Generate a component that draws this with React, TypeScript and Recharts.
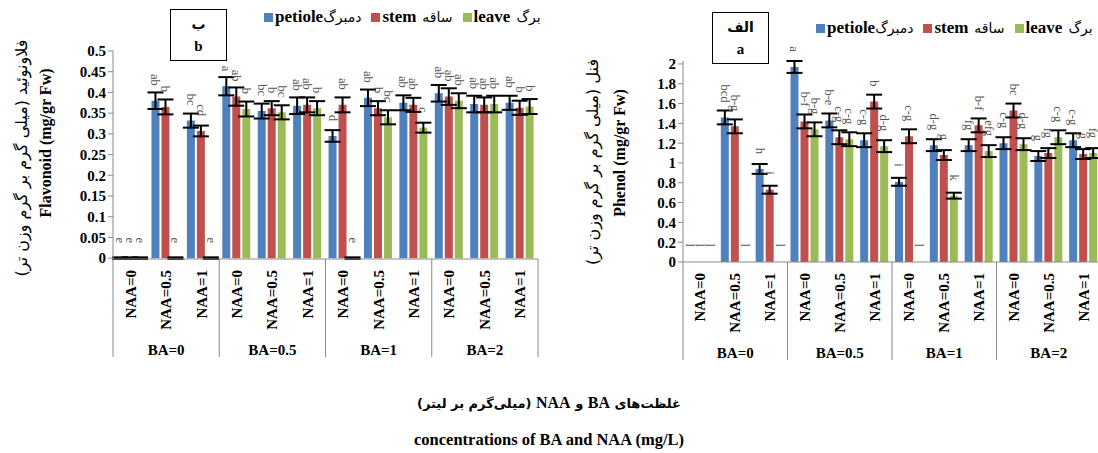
import React from 'react';
import { BarChart, Bar, XAxis, YAxis, ErrorBar, LabelList } from 'recharts';

const SERIF = '"Liberation Serif", "Times New Roman", serif';
const FA = '"DejaVu Sans", sans-serif';
const BLUE = '#4F81BD';
const RED = '#C0504D';
const GREEN = '#9BBB59';

const naaLabels = ['NAA=0', 'NAA=0.5', 'NAA=1', 'NAA=0', 'NAA=0.5', 'NAA=1', 'NAA=0', 'NAA=0.5', 'NAA=1', 'NAA=0', 'NAA=0.5', 'NAA=1'];
const baLabels = ['BA=0', 'BA=0.5', 'BA=1', 'BA=2'];

// Flavonoid (left panel, "b")
const flavPetiole = [0, 0.38, 0.332, 0.415, 0.355, 0.368, 0.295, 0.387, 0.375, 0.398, 0.372, 0.375];
const flavStem = [0, 0.365, 0.307, 0.39, 0.362, 0.37, 0.37, 0.362, 0.37, 0.39, 0.37, 0.363];
const flavLeave = [0, 0, 0, 0.36, 0.352, 0.362, 0, 0.34, 0.315, 0.38, 0.372, 0.366];
const flavPetioleErr = [0.002, 0.02, 0.017, 0.022, 0.018, 0.02, 0.014, 0.02, 0.018, 0.02, 0.02, 0.017];
const flavStemErr = [0.002, 0.018, 0.013, 0.022, 0.017, 0.018, 0.018, 0.017, 0.017, 0.02, 0.018, 0.017];
const flavLeaveErr = [0.002, 0.002, 0.002, 0.018, 0.017, 0.017, 0.002, 0.017, 0.012, 0.018, 0.02, 0.018];
const flavPetioleSig = ['e', 'ab', 'bc', 'a', 'bc', 'ab', 'd', 'ab', 'ab', 'ab', 'ab', 'ab'];
const flavStemSig = ['e', 'b', 'cd', 'ab', 'b', 'ab', 'ab', 'b', 'ab', 'ab', 'ab', 'b'];
const flavLeaveSig = ['e', 'e', 'e', 'b', 'bc', 'b', 'e', 'bc', 'c', 'ab', 'ab', 'b'];
const flavTicks = [0, 0.05, 0.1, 0.15, 0.2, 0.25, 0.3, 0.35, 0.4, 0.45, 0.5];
const flavTickLabels = ['0', '0.05', '0.1', '0.15', '0.2', '0.25', '0.3', '0.35', '0.4', '0.45', '0.5'];

// Phenol (right panel, "a")
const phPetiole = [0, 1.46, 0.94, 1.97, 1.43, 1.23, 0.81, 1.18, 1.18, 1.2, 1.07, 1.23];
const phStem = [0, 1.37, 0.73, 1.42, 1.26, 1.62, 1.27, 1.08, 1.38, 1.53, 1.1, 1.09];
const phLeave = [0, 0, 0, 1.34, 1.24, 1.17, 0, 0.67, 1.12, 1.19, 1.26, 1.1];
const phPetioleErr = [null, 0.07, 0.05, 0.06, 0.07, 0.07, 0.04, 0.06, 0.06, 0.06, 0.05, 0.07];
const phStemErr = [null, 0.07, 0.04, 0.07, 0.07, 0.07, 0.07, 0.05, 0.07, 0.07, 0.05, 0.05];
const phLeaveErr = [null, null, null, 0.07, 0.07, 0.06, null, 0.03, 0.06, 0.06, 0.07, 0.05];
const phPetioleSig = ['l', 'bcd', 'h', 'a', 'b-e', 'c-g', 'i', 'd-g', 'fg', 'c-g', 'g', 'c-g'];
const phStemSig = ['l', 'b-g', 'i', 'b-f', 'c-g', 'b', 'c-g', 'g', 'b-f', 'bc', 'fg', 'g'];
const phLeaveSig = ['l', 'l', 'l', 'b-g', 'c-g', 'd-g', 'l', 'k', 'efg', 'd-g', 'c-g', 'fg'];
const phTicks = [0, 0.2, 0.4, 0.6, 0.8, 1, 1.2, 1.4, 1.6, 1.8, 2];
const phTickLabels = ['0', '0.2', '0.4', '0.6', '0.8', '1', '1.2', '1.4', '1.6', '1.8', '2'];

const seriesNamesEn = ['petiole', 'stem', 'leave'];
const seriesNamesFa = ['دمبرگ', 'ساقه', 'برگ'];
const seriesColors = [BLUE, RED, GREEN];

function makeRows(p: number[], s: number[], l: number[], pe: any[], se: any[], le: any[], ps: string[], ss: string[], ls: string[]) {
  return naaLabels.map((naa, i) => ({ idx: i, naa, p: p[i], s: s[i], l: l[i], pe: pe[i], se: se[i], le: le[i], ps: ps[i], ss: ss[i], ls: ls[i] }));
}

const flavRows = makeRows(flavPetiole, flavStem, flavLeave, flavPetioleErr, flavStemErr, flavLeaveErr, flavPetioleSig, flavStemSig, flavLeaveSig);
const phRows = makeRows(phPetiole, phStem, phLeave, phPetioleErr, phStemErr, phLeaveErr, phPetioleSig, phStemSig, phLeaveSig);

const SigLabel = (props: any) => {
  const vb = props.viewBox || {};
  const x = props.x ?? vb.x;
  const y = props.y ?? vb.y;
  const w = props.width ?? vb.width;
  const cx = x + w / 2;
  const ay = y - 15;
  return (
    <text x={cx} y={ay} transform={`rotate(90, ${cx}, ${ay})`} textAnchor="end" dominantBaseline="central"
      fontFamily={SERIF} fontSize={12.5} fill="#555">{props.value}</text>
  );
};

const makeTick = (band: number) => (props: any) => {
  const { x, y, payload } = props;
  const i = payload.value as number;
  const items: any[] = [];
  items.push(
    <text key="n" x={x} y={y + 11} transform={`rotate(-90, ${x}, ${y + 11})`} textAnchor="end" dominantBaseline="central"
      fontFamily={SERIF} fontWeight="bold" fontSize={15} fill="#000">{naaLabels[i]}</text>
  );
  if (i % 3 === 0) {
    items.push(<line key="s" x1={x - band / 2} x2={x - band / 2} y1={y} y2={y + 98} stroke="#8a8a8a" strokeWidth={1} />);
  }
  if (i === naaLabels.length - 1) {
    items.push(<line key="e" x1={x + band / 2} x2={x + band / 2} y1={y} y2={y + 98} stroke="#8a8a8a" strokeWidth={1} />);
  }
  if (i % 3 === 1) {
    items.push(
      <text key="b" x={x} y={y + 91} textAnchor="middle" dominantBaseline="central" fontFamily={SERIF} fontWeight="bold" fontSize={15} fill="#000">{baLabels[(i - 1) / 3]}</text>
    );
  }
  return <g>{items}</g>;
};

const AxisTitle = (fa: string, en: string, faX: number, enX: number, faY: number, enY: number) => () => (
  <g>
    <text x={faX} y={faY} transform={`rotate(-90, ${faX}, ${faY})`} textAnchor="middle" dominantBaseline="central" fontFamily={FA} fontSize={16} fill="#000">{fa}</text>
    <text x={enX} y={enY} transform={`rotate(-90, ${enX}, ${enY})`} textAnchor="middle" dominantBaseline="central" fontFamily={SERIF} fontWeight="bold" fontSize={16} fill="#000">{en}</text>
  </g>
);

const LegendBox = ({ left, top }: { left: number; top: number }) => (
  <div style={{ position: 'absolute', left, top, display: 'flex', alignItems: 'center', whiteSpace: 'nowrap', height: 20 }}>
    {seriesNamesEn.map((en, k) => (
      <span key={en} style={{ display: 'inline-flex', alignItems: 'center', marginRight: k < 2 ? 10 : 0 }}>
        <span style={{ width: 9, height: 9, background: seriesColors[k], display: 'inline-block', marginRight: 2 }} />
        <span style={{ fontFamily: SERIF, fontWeight: 'bold', fontSize: 17 }}>{en}</span>
        <span style={{ fontFamily: FA, fontSize: 14, marginLeft: k === 0 ? 0 : 6 }}>{seriesNamesFa[k]}</span>
      </span>
    ))}
  </div>
);

const TitleBox = ({ left, top, fa, en }: any) => (
  <div style={{ position: 'absolute', left, top, width: 57, height: 52, border: '1px solid #000', boxSizing: 'border-box', textAlign: 'center' }}>
    <div style={{ fontFamily: FA, fontWeight: 'bold', fontSize: 14, marginTop: 4, lineHeight: '20px' }}>{fa}</div>
    <div style={{ fontFamily: SERIF, fontWeight: 'bold', fontSize: 15, marginTop: 4, lineHeight: '16px' }}>{en}</div>
  </div>
);

function Panel({ rows, ticks, tickLabels, domain, width, height, margin, band, title }: any) {
  return (
    <BarChart width={width} height={height} data={rows} margin={margin} barCategoryGap="8.6%" barGap={2}>
      <XAxis dataKey="idx" type="category" interval={0} tickSize={0} tickMargin={0} height={110}
        axisLine={{ stroke: '#8a8a8a' }} tickLine={false} tick={makeTick(band)} />
      <YAxis type="number" domain={domain} ticks={ticks} interval={0} width={60} tickSize={5}
        axisLine={{ stroke: '#8a8a8a' }} tickLine={{ stroke: '#8a8a8a' }}
        tickFormatter={(v: number, i: number) => tickLabels[i]}
        tick={{ fontFamily: SERIF, fontWeight: 'bold', fontSize: 15, fill: '#000' }}
        label={{ content: title }} />
      <Bar dataKey="p" fill={BLUE} isAnimationActive={false} minPointSize={0.01}>
        <ErrorBar dataKey="pe" width={8} strokeWidth={2} stroke="#000" direction="y" isAnimationActive={false} />
        <LabelList dataKey="ps" content={SigLabel} />
      </Bar>
      <Bar dataKey="s" fill={RED} isAnimationActive={false} minPointSize={0.01}>
        <ErrorBar dataKey="se" width={8} strokeWidth={2} stroke="#000" direction="y" isAnimationActive={false} />
        <LabelList dataKey="ss" content={SigLabel} />
      </Bar>
      <Bar dataKey="l" fill={GREEN} isAnimationActive={false} minPointSize={0.01}>
        <ErrorBar dataKey="le" width={8} strokeWidth={2} stroke="#000" direction="y" isAnimationActive={false} />
        <LabelList dataKey="ls" content={SigLabel} />
      </Bar>
    </BarChart>
  );
}

export default function App() {
  return (
    <div style={{ position: 'absolute', left: 0, top: 0, width: 1098, height: 453, overflow: 'hidden', background: '#fff' }}>
      <div style={{ position: 'absolute', left: 0, top: 0 }}>
        <Panel rows={flavRows} ticks={flavTicks} tickLabels={flavTickLabels} domain={[0, 0.5]}
          width={545} height={380} margin={{ top: 51, right: 7, left: 53, bottom: 11 }} band={425 / 12}
          title={AxisTitle('فلاونوئید (میلی گرم بر گرم وزن تر)', 'Flavonoid (mg/gr Fw)', 21, 45, 158, 143)} />
      </div>
      <div style={{ position: 'absolute', left: 580, top: 0 }}>
        <Panel rows={phRows} ticks={phTicks} tickLabels={phTickLabels} domain={[0, 2]}
          width={522} height={385} margin={{ top: 61, right: 1, left: 43, bottom: 13 }} band={418 / 12}
          title={AxisTitle('فنل (میلی گرم بر گرم وزن تر)', 'Phenol (mg/gr Fw)', 12, 39, 162, 153)} />
      </div>
      <TitleBox left={170} top={9} fa="ب" en="b" />
      <TitleBox left={712} top={12} fa="الف" en="a" />
      <LegendBox left={264} top={7} />
      <LegendBox left={816} top={18} />
      <div style={{ position: 'absolute', left: 0, width: 1098, top: 394, textAlign: 'center', fontFamily: FA, fontWeight: 'bold', fontSize: 13, direction: 'rtl' }}>
        غلظت‌های <span style={{ fontFamily: SERIF, fontSize: 16 }}>BA</span> و <span style={{ fontFamily: SERIF, fontSize: 16 }}>NAA</span> (میلی‌گرم بر لیتر)
      </div>
      <div style={{ position: 'absolute', left: 0, width: 1098, top: 430, textAlign: 'center', fontFamily: SERIF, fontWeight: 'bold', fontSize: 16.5 }}>
        concentrations of BA and NAA (mg/L)
      </div>
    </div>
  );
}
